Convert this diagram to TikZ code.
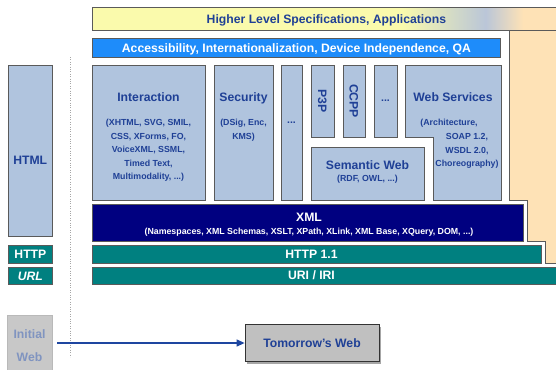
\documentclass[tikz,border=0pt]{standalone}
\usepackage{fontspec}
\setmainfont{Liberation Sans}
\usetikzlibrary{arrows.meta,shadows}

\definecolor{specyellow}{RGB}{250,250,172}
\definecolor{specmid}{RGB}{186,198,216}
\definecolor{peach}{RGB}{254,226,182}
\definecolor{accblue}{RGB}{30,140,250}
\definecolor{techblue}{RGB}{176,196,222}
\definecolor{techtext}{RGB}{31,64,150}
\definecolor{xmlnavy}{RGB}{0,0,128}
\definecolor{netteal}{RGB}{0,128,128}
\definecolor{edgegray}{RGB}{90,90,90}
\definecolor{oldgray}{RGB}{200,200,200}
\definecolor{oldtext}{RGB}{128,148,192}
\definecolor{webgray}{RGB}{192,192,192}
\definecolor{arrowblue}{RGB}{30,70,160}

\pgfdeclarehorizontalshading{specshade}{100bp}{color(0bp)=(specyellow); color(58bp)=(specyellow); color(67bp)=(specmid); color(71bp)=(peach); color(100bp)=(peach)}

\begin{document}
\begin{tikzpicture}[x=1pt,y=-1pt,
  techbox/.style={draw=edgegray, line width=0.8pt, fill=techblue},
  band/.style={draw=edgegray, line width=0.8pt, anchor=north west, inner sep=0pt,
    font=\fontsize{12.2}{14}\selectfont\bfseries, text height=8.8pt, text depth=0pt},
  ttl/.style={font=\fontsize{12.2}{14}\selectfont\bfseries, text=techtext,
    text height=8.8pt, text depth=0pt, inner sep=0pt},
  sub/.style={font=\fontsize{8.8}{13.5}\selectfont\bfseries, text=techtext,
    align=center, inner sep=0pt, anchor=north},
  dots/.style={font=\fontsize{10.5}{12}\selectfont\bfseries, text=techtext, inner sep=0pt}]
\useasboundingbox (0,0) rectangle (556,369);

% Backdrop: specification band and peach steps
\fill[peach] (509,30) -- (560,30) -- (560,263) -- (545,263) -- (545,241)
  -- (527,241) -- (527,200) -- (509,200) -- cycle;
\node[band, shade, shading=specshade, text=techtext, minimum width=468pt, minimum height=23pt]
  (spec) at (92,7) {Higher Level Specifications, Applications};
\draw[edgegray, line width=0.8pt] (92,30) -- (509,30) -- (509,200) -- (527,200)
  -- (527,241) -- (545,241) -- (545,263) -- (560,263);

% Accessibility band
\node[band, fill=accblue, text=white, minimum width=408pt, minimum height=18.5pt]
  (access) at (92,38.5) {Accessibility, Internationalization, Device Independence, QA};

% Technology boxes
\draw[techbox] (92,65.5) rectangle (205,200);
\draw[techbox] (214,65.5) rectangle (273,200);
\foreach \xa/\xb/\yb in {281/302/200, 311/334/137, 343/365/137, 374/397/137}
  \draw[techbox] (\xa,65.5) rectangle (\xb,\yb);
\draw[techbox] (405,65.5) -- (501,65.5) -- (501,200) -- (433,200) -- (433,137)
  -- (405,137) -- cycle;
\draw[techbox] (311,147) rectangle (424,200);

\node[ttl] (interaction) at (148.5,97.5) {Interaction};
\node[sub] (interactionlist) at (148.5,119.2)
  {(XHTML, SVG, SMIL,\\CSS, XForms, FO,\\VoiceXML, SSML,\\Timed Text,\\Multimodality, ...)};
\node[ttl] (security) at (243.5,97.5) {Security};
\node[sub] (securitylist) at (243.5,119.2) {(DSig, Enc,\\KMS)};
\node[dots] (dotsa) at (291.5,122.5) {...};
\node[ttl, rotate=-90] (p3p) at (322.5,101) {P3P};
\node[ttl, rotate=-90] (ccpp) at (354,101) {CCPP};
\node[dots] (dotsb) at (385.5,100.5) {...};
\node[ttl] (websvc) at (453,97.5) {Web Services};
\node[sub] (websvcarch) at (449,119.2) {(Architecture,};
\node[sub] (websvclist) at (467,133.6) {SOAP 1.2,\\WSDL 2.0,\\Choreography)};
\node[ttl] (semweb) at (367.5,165) {Semantic Web};
\node[sub] (semweblist) at (367.5,174.5) {(RDF, OWL, ...)};

% XML, HTTP and URI layers
\node[band, fill=xmlnavy, minimum width=431pt, minimum height=37pt] (xml) at (92,204) {};
\node[ttl, text=white] (xmltitle) at (309,217) {XML};
\node[sub, text=white] (xmllist) at (309,227.5)
  {(Namespaces, XML Schemas, XSLT, XPath, XLink, XML Base, XQuery, DOM, ...)};
\node[band, fill=netteal, minimum width=449pt, minimum height=18pt] (http) at (92,245) {};
\node[ttl, text=white] (httptext) at (311.5,254) {HTTP 1.1};
\node[band, fill=netteal, minimum width=468pt, minimum height=17pt] (uri) at (92,267) {};
\node[ttl, text=white] (uritext) at (311.5,275.5) {URI / IRI};

% Initial web column
\draw[techbox] (8,65) rectangle (52.5,236);
\node[ttl] (html) at (30.25,160) {HTML};
\node[band, fill=netteal, text=white, minimum width=44pt, minimum height=18pt]
  (httpleft) at (8,245) {HTTP};
\node[band, fill=netteal, text=white, font=\fontsize{12.2}{14}\selectfont\bfseries\itshape,
  minimum width=44pt, minimum height=17pt] (urlleft) at (8,267) {URL};
\draw[gray!70, dotted] (70,57) -- (70,357);

% From initial web to tomorrow's web
\node[draw=gray!55, line width=0.8pt, fill=oldgray, text=oldtext, minimum width=45pt,
  minimum height=60pt, inner sep=0pt, align=center,
  font=\fontsize{12.2}{23}\selectfont\bfseries] (initweb) at (29.5,345.5) {Initial\\Web};
\node[draw=black!80, line width=0.8pt, fill=webgray, text=techtext, minimum width=134pt,
  minimum height=37pt, inner sep=0pt, font=\fontsize{12.2}{14}\selectfont\bfseries,
  drop shadow={shadow xshift=2pt, shadow yshift=-2pt, opacity=0.7}]
  (tomorrow) at (312,343) {Tomorrow's Web};
\draw[arrowblue, line width=1.2pt, -{Triangle[length=8pt,width=7pt]}, shorten <=5pt]
  (initweb.east |- tomorrow.west) -- (tomorrow.west);
\end{tikzpicture}
\end{document}
